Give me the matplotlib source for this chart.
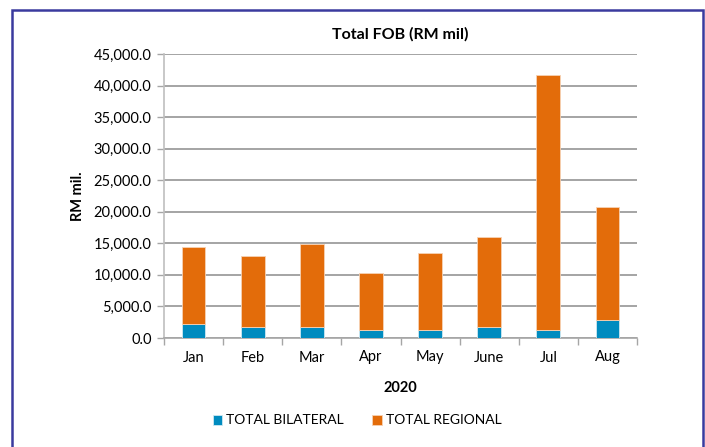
import numpy as np
import matplotlib.pyplot as plt
from matplotlib.patches import Rectangle

months = ['Jan', 'Feb', 'Mar', 'Apr', 'May', 'June', 'Jul', 'Aug']
bilateral = [2240, 1760, 1760, 1240, 1290, 1760, 1190, 2920]
regional = [12170, 11180, 13130, 9050, 12220, 14190, 40480, 17790]

blue = '#008BBF'
orange = '#E36C0A'
plt.rcParams['font.family'] = ['Lato', 'DejaVu Sans']

fig = plt.figure(figsize=(7.05, 4.47), dpi=100)
ax = fig.add_axes([164 / 705, 1 - 338 / 447, 473 / 705, 284 / 447])

x = np.arange(len(months))
ax.bar(x, bilateral, width=0.4, color=blue, edgecolor='#cfe8f2', linewidth=0.6,
       label='TOTAL BILATERAL', zorder=3)
ax.bar(x, regional, width=0.4, bottom=bilateral, color=orange, edgecolor='#f6d2b4',
       linewidth=0.6, label='TOTAL REGIONAL', zorder=3)

ax.set_xlim(-0.5, len(months) - 0.5)
ax.set_ylim(0, 45000)
ax.set_yticks(np.arange(0, 45001, 5000))
ax.set_yticklabels(['{:,.1f}'.format(v) for v in np.arange(0, 45001, 5000)], fontsize=10.5)
ax.set_xticks(x)
ax.set_xticklabels(months, fontsize=10.5)
ax.set_xticks(np.arange(-0.5, len(months)), minor=True)
ax.tick_params(axis='x', which='major', length=0, pad=9)
ax.tick_params(axis='x', which='minor', length=5, color='#a6a6a6', width=1)
ax.tick_params(axis='y', length=5, color='#a6a6a6', width=1, pad=4)

ax.grid(axis='y', color='#8c8c8c', linewidth=1.1, zorder=0)
for s in ['top', 'right']:
    ax.spines[s].set_visible(False)
ax.spines['left'].set_color('#bfbfbf')
ax.spines['bottom'].set_color('#a6a6a6')
ax.spines['left'].set_linewidth(1.2)
ax.spines['bottom'].set_linewidth(1.2)

ax.set_title('Total FOB (RM mil)', fontsize=11.5, fontweight='bold', pad=11)
ax.set_ylabel('RM mil.', fontsize=10.5, fontweight='bold', labelpad=6)
ax.set_xlabel('2020', fontsize=10.5, fontweight='bold', labelpad=12)

ax.legend(loc='upper center', bbox_to_anchor=(357 / 705, 1 - 402 / 447),
          bbox_transform=fig.transFigure, ncol=2, frameon=False, fontsize=10,
          handlelength=0.7, handleheight=0.7, handletextpad=0.3, columnspacing=2.0)

fig.patches.append(Rectangle((12 / 705, -0.01), 691 / 705, 1 - 10 / 447 + 0.01,
                             transform=fig.transFigure, fill=False,
                             edgecolor='#3a3a9e', linewidth=1.8))

fig.savefig('out.png', dpi=100)
